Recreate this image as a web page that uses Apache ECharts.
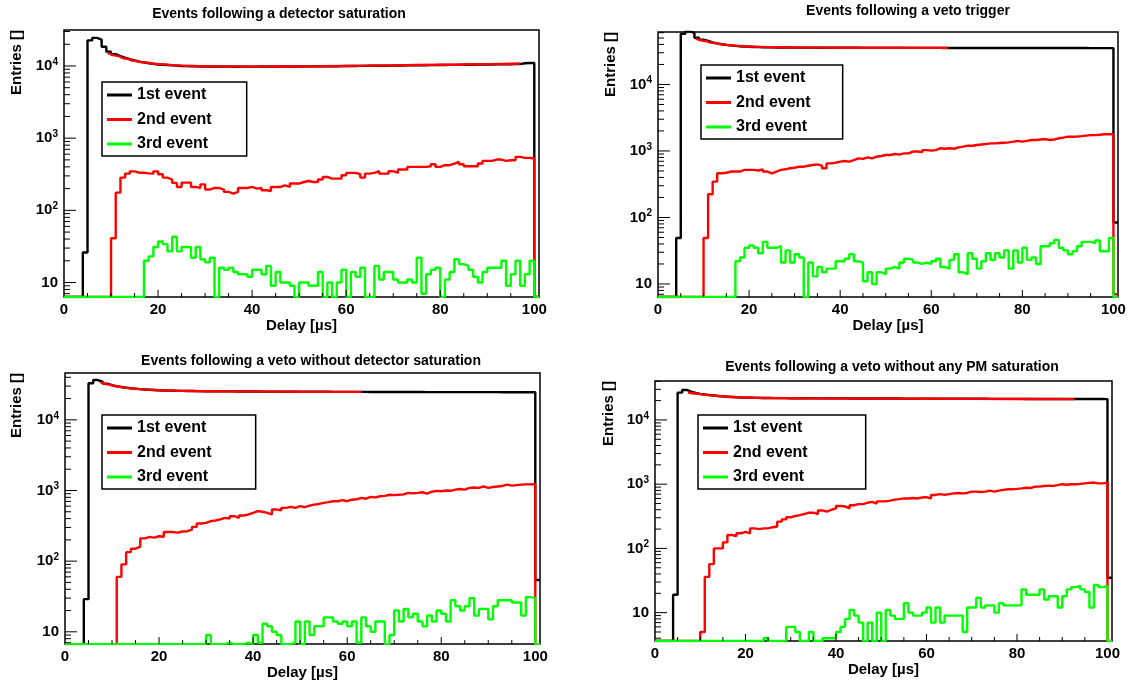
<!DOCTYPE html>
<html>
<head>
<meta charset="utf-8">
<title>Events following a veto</title>
<script src="https://cdn.jsdelivr.net/npm/echarts@6.0.0/dist/echarts.min.js"></script>
<style>
  html, body { margin: 0; padding: 0; background: #fff; }
  #chart { width: 1129px; height: 681px; }
</style>
</head>
<body>
<div id="chart"></div>
<script>
// 101 bins of 1 us, from 0 to 101 us; value i is the content of bin [i, i+1)
const xMax = 101;
const xTicks = [0, 20, 40, 60, 80, 100];
const seriesNames = ["1st event", "2nd event", "3rd event"];
const titles = [
  "Events following a detector saturation",
  "Events following a veto trigger",
  "Events following a veto without detector saturation",
  "Events following a veto without any PM saturation"
];
// y axis range (log) of each pad
const yRanges = [[6.3, 31500], [6.37, 61500], [6.7, 46000], [3.62, 40400]];

// ---- pad 1 : detector saturation
const first1 = [0,0,0,0,26,22600,24500,23200,18500,15800,
  14600,13700,13000,12400,11900,11500,11200,10900,10700,10500,
  10400,10300,10200,10100,10000,9950,9900,9900,9850,9850,
  9820,9800,9810,9780,9800,9790,9770,9800,9780,9790,
  9800,9810,9790,9820,9800,9830,9810,9840,9830,9850,
  9860,9880,9870,9900,9910,9920,9940,9930,9960,9980,
  10000,10010,10030,10020,10050,10070,10060,10090,10110,10120,
  10150,10160,10180,10200,10210,10230,10250,10260,10280,10300,
  10320,10340,10350,10370,10390,10400,10420,10440,10450,10470,
  10490,10510,10530,10550,10570,10590,10620,10900,11000,11000,
  0];
const second1 = [0,0,0,0,0,0,0,0,0,0,
  41,176,284,323,347,332,332,325,323,347,
  316,284,267,240,211,242,242,211,204,229,
  194,204,204,194,180,170,180,204,204,211,
  200,204,190,185,211,211,222,211,235,235,
  247,255,247,247,267,290,275,275,275,306,
  330,330,316,284,323,330,348,323,323,348,
  330,367,367,400,400,400,400,408,435,400,
  422,422,445,469,435,408,408,408,445,485,
  485,505,505,485,495,495,550,533,533,522,
  0];
const third1 = [0,0,0,0,0,0,0,0,0,0,
  0,0,0,0,0,0,0,20,23,31,
  37,34,27,43,27,31,31,22,31,21,
  19,22,0,16,15,16,14,13,13,12,
  15,15,13,17,9,14,10,10,9,0,
  10,10,9,9,14,0,10,0,10,15,
  0,14,12,16,0,0,17,11,14,14,
  11,10,10,11,10,22,7,13,15,16,
  0,11,14,21,18,17,15,12,10,14,
  16,16,16,20,9,13,20,9,13,20,
  0];
const fit1 = [[9.3,15200],[11,13900],[13,12700],[15,11800],[17,11200],[20,10600],[25,10100],
  [30,9900],[35,9820],[40,9800],[50,9850],[60,10000],[70,10200],[80,10400],[90,10600],[97,10800]];

// ---- pad 2 : veto trigger
const first2 = [0,0,0,0,49,58000,63000,59500,50500,47000,
  45000,43000,41500,40300,39400,38700,38100,37600,37200,36900,
  36600,36400,36300,36200,36100,36000,36000,35900,35900,35850,
  35800,35800,35750,35750,35700,35700,35700,35650,35650,35650,
  35600,35600,35600,35600,35550,35550,35550,35550,35500,35500,
  35500,35500,35500,35500,35500,35450,35450,35450,35450,35450,
  35450,35450,35400,35400,35400,35400,35400,35400,35400,35400,
  35400,35400,35400,35350,35350,35350,35350,35350,35350,35350,
  35350,35350,35350,35300,35300,35300,35300,35300,35300,35300,
  35300,35300,35300,35300,35250,35250,35250,35250,35250,35200,
  84];
const second2 = [0,0,0,0,0,0,0,0,0,0,
  49,224,346,462,470,490,490,490,519,519,
  519,508,530,490,462,490,519,530,550,560,
  580,580,600,615,630,600,550,650,665,690,
  705,690,730,775,760,800,775,820,840,870,
  870,900,880,920,920,980,980,960,1030,1010,
  1030,1100,1080,1100,1080,1130,1160,1200,1200,1230,
  1250,1270,1300,1300,1315,1330,1345,1380,1420,1380,
  1420,1460,1460,1490,1510,1460,1490,1550,1590,1640,
  1640,1650,1670,1700,1730,1730,1750,1780,1780,1780,
  7];
const third2 = [0,0,0,0,0,0,0,0,0,0,
  0,0,0,0,0,0,0,22,25,35,
  38,35,29,43,35,35,37,21,32,21,
  28,25,0,21,13,18,15,17,17,22,
  22,24,28,22,21,11,15,10,15,14,
  17,18,17,21,24,23,21,20,21,20,
  22,24,18,17,23,28,15,14,29,24,
  17,22,29,23,29,25,32,17,32,21,
  35,23,25,20,37,37,41,46,35,32,
  28,31,37,43,43,41,45,31,31,49,
  0];
const fit2 = [[8.3,49000],[10,45500],[12,42200],[14,40100],[16,38800],[18,37900],[20,37200],
  [25,36300],[30,35900],[40,35700],[50,35600],[63.7,35500]];

// ---- pad 3 : veto without detector saturation
const first3 = [0,0,0,0,29,32900,36600,34700,32500,31000,
  30000,29200,28600,28000,27600,27200,26900,26600,26400,26200,
  26000,25900,25800,25700,25650,25600,25550,25500,25450,25400,
  25380,25350,25330,25300,25280,25250,25230,25200,25180,25150,
  25130,25100,25080,25060,25040,25020,25000,24990,24980,24970,
  24960,24950,24940,24930,24920,24910,24900,24890,24880,24870,
  24860,24850,24840,24830,24820,24810,24800,24790,24780,24770,
  24760,24750,24740,24730,24720,24710,24700,24700,24690,24690,
  24680,24680,24670,24670,24660,24660,24650,24650,24640,24640,
  24630,24630,24620,24620,24610,24610,24600,24600,24600,24600,
  54];
const second3 = [0,0,0,0,0,0,0,0,0,0,
  0,60,90,134,150,160,210,221,215,225,
  221,258,258,253,263,265,280,306,341,348,
  368,376,390,410,400,433,410,443,458,483,
  510,500,483,458,537,525,568,587,568,600,
  580,610,630,645,668,684,705,705,730,705,
  740,750,785,765,810,800,828,840,870,860,
  870,880,925,910,925,945,905,960,986,975,
  1000,990,1030,1050,1030,1090,1100,1090,1140,1090,
  1120,1140,1160,1210,1170,1190,1210,1220,1220,1230,
  0];
const third3 = [0,0,0,0,0,0,0,0,0,0,
  0,0,0,0,0,0,0,0,0,0,
  0,0,0,0,0,0,0,0,0,0,
  9,0,0,0,7,0,0,0,7,0,
  9,7,13,12,10,9,0,0,7,14,
  0,14,9,12,12,16,16,14,13,14,
  12,14,7,16,12,10,14,14,0,9,
  20,14,21,16,18,14,12,17,14,20,
  18,14,28,23,20,23,30,17,21,21,
  15,23,28,28,28,26,26,17,31,30,
  0];
const fit3 = [[7.5,34500],[9,31800],[11,29700],[13,28300],[15,27400],[18,26600],[20,26200],
  [25,25700],[30,25400],[40,25200],[50,25000],[63,24900]];

// ---- pad 4 : veto without any PM saturation
const first4 = [0,0,0,0,19,26600,29300,27600,26300,25500,
  24900,24400,24000,23600,23300,23000,22800,22600,22400,22300,
  22200,22100,22050,22000,21950,21900,21900,21850,21850,21800,
  21800,21780,21760,21740,21720,21700,21690,21680,21670,21660,
  21650,21640,21630,21620,21610,21600,21590,21580,21570,21560,
  21550,21540,21530,21520,21510,21500,21490,21480,21470,21460,
  21450,21440,21430,21420,21410,21400,21390,21380,21370,21360,
  21350,21340,21330,21320,21310,21300,21290,21280,21270,21260,
  21250,21240,21230,21220,21210,21200,21200,21190,21190,21180,
  21180,21170,21170,21160,21160,21150,21150,21140,21140,21130,
  35];
const second4 = [0,0,0,0,0,0,0,0,0,0,
  5,36,57,100,100,124,162,156,172,181,
  172,205,200,205,205,214,219,261,283,305,
  320,330,343,360,360,343,390,375,400,420,
  458,450,420,470,490,490,515,530,500,540,
  540,555,575,585,600,600,610,600,620,630,
  600,680,700,680,700,720,730,720,730,765,
  765,755,765,795,765,795,815,835,835,845,
  860,880,870,915,915,935,950,940,965,1000,
  980,1000,1000,1010,1030,1050,1060,1030,1030,1060,
  0];
const third4 = [0,0,0,0,0,0,0,0,0,0,
  0,0,0,0,0,0,0,0,0,0,
  0,0,0,0,4,0,0,0,0,6,
  6,5,0,0,5,0,0,4,4,4,
  5,6,8,11,9,7,0,7,0,10,
  0,11,9,8,8,14,10,9,9,10,
  12,7,12,7,9,9,9,9,5,12,
  12,17,12,13,13,10,14,13,13,13,
  13,23,19,19,19,23,16,18,18,12,
  18,23,25,26,23,21,12,27,25,26,
  0];
const fit4 = [[7.3,27000],[9,25800],[11,24700],[13,23900],[15,23300],[18,22700],[20,22400],
  [25,22000],[30,21800],[40,21600],[60,21400],[80,21200],[92.7,21100]];

const pads = [
  { first: first1, second: second1, third: third1, fit: fit1 },
  { first: first2, second: second2, third: third2, fit: fit2 },
  { first: first3, second: second3, third: third3, fit: fit3 },
  { first: first4, second: second4, third: third4, fit: fit4 }
];

// positions of each pad on the canvas
const layout = [
  { grid: { left: 64, top: 30, width: 475, height: 267 }, legend: [102, 82, 35], title: [279, 14], yName: [17, 30] },
  { grid: { left: 658, top: 32, width: 460, height: 265 }, legend: [701, 65, 32], title: [908, 11], yName: [611, 32] },
  { grid: { left: 65, top: 373, width: 475, height: 272 }, legend: [102, 415, 44], title: [311, 361], yName: [17, 373] },
  { grid: { left: 655, top: 381, width: 457, height: 260 }, legend: [698, 415, 58], title: [892, 367], yName: [609, 381] }
];

const FONT = '"Liberation Sans", Arial, Helvetica, sans-serif';
const colors = ["#000000", "#ff0000", "#00ff00"];
const LW = 2.4;

// histogram bins -> step line points, empty bins sit on the bottom of the pad like ROOT does
function histPoints(vals, yMin) {
  const pts = vals.map((v, i) => [i, Math.max(v, yMin)]);
  pts.push([vals.length, Math.max(vals[vals.length - 1], yMin)]);
  return pts;
}

// ROOT style ticks: kind 0 y minor, 1 x minor, 2 y major, 3 x major
function axisTicks(yMin, yMax) {
  const d = [];
  for (let e = 0; e <= 5; e++) {
    for (let k = 1; k <= 9; k++) {
      const v = k * Math.pow(10, e);
      if (v > yMin && v < yMax) d.push([0, v, k === 1 ? 2 : 0]);
    }
  }
  for (let x = 5; x < 100; x += 5) {
    d.push([x, yMin, x % 20 ? 1 : 3]);
  }
  return d;
}
const tickLen = [6, 4, 12, 7];

function powerLabel(v) {
  const l = Math.log10(v);
  const e = Math.round(l);
  if (Math.abs(l - e) > 1e-6) return "";
  return e === 1 ? "{b|10}" : "{b|10}{s|" + e + "}";
}

const grids = [], xAxes = [], yAxes = [], legends = [], series = [], graphics = [];

pads.forEach((pad, i) => {
  const lay = layout[i];
  const yMin = yRanges[i][0], yMax = yRanges[i][1];
  grids.push(Object.assign({ show: true, borderColor: "#000", borderWidth: 1.5, backgroundColor: "transparent" }, lay.grid));

  xAxes.push({
    type: "value", gridIndex: i, min: 0, max: xMax, interval: 20,
    axisLine: { show: false },
    axisTick: { show: false },
    splitLine: { show: false },
    axisLabel: {
      color: "#000", fontSize: 15, fontWeight: "bold", fontFamily: FONT, margin: 5,
      formatter: v => (xTicks.indexOf(v) >= 0 ? String(v) : "")
    },
    name: "Delay [µs]", nameLocation: "middle", nameGap: 20,
    nameTextStyle: { color: "#000", fontSize: 15, fontWeight: "bold", fontFamily: FONT }
  });

  yAxes.push({
    type: "log", logBase: 10, gridIndex: i, min: yMin, max: yMax,
    axisLine: { show: false },
    axisTick: { show: false },
    splitLine: { show: false },
    axisLabel: {
      color: "#000", margin: 6, formatter: powerLabel,
      rich: {
        b: { fontSize: 15, fontWeight: "bold", fontFamily: FONT, color: "#000", lineHeight: 18 },
        s: { fontSize: 10, fontWeight: "bold", fontFamily: FONT, color: "#000", verticalAlign: "top", lineHeight: 10 }
      }
    }
  });

  legends.push({
    orient: "vertical", left: lay.legend[0], top: lay.legend[1],
    data: seriesNames, icon: "rect", itemWidth: 25, itemHeight: 3, itemGap: 8.5,
    padding: [5, lay.legend[2], 4, 5],
    backgroundColor: "#fff", borderColor: "#000", borderWidth: 1.5,
    selectedMode: false,
    textStyle: { color: "#000", fontSize: 16, fontWeight: "bold", fontFamily: FONT, lineHeight: 16 }
  });

  const common = {
    type: "line", xAxisIndex: i, yAxisIndex: i, showSymbol: false, symbol: "none",
    animation: false, silent: true
  };
  series.push(Object.assign({}, common, {
    name: seriesNames[0], step: "end", color: colors[0],
    lineStyle: { color: colors[0], width: LW }, data: histPoints(pad.first, yMin)
  }));
  series.push(Object.assign({}, common, {
    name: "fit", smooth: true, smoothMonotone: "x", color: colors[1],
    lineStyle: { color: colors[1], width: LW }, data: pad.fit
  }));
  series.push(Object.assign({}, common, {
    name: seriesNames[1], step: "end", color: colors[1],
    lineStyle: { color: colors[1], width: LW }, data: histPoints(pad.second, yMin)
  }));
  series.push(Object.assign({}, common, {
    name: seriesNames[2], step: "end", color: colors[2],
    lineStyle: { color: colors[2], width: LW }, data: histPoints(pad.third, yMin)
  }));
  series.push({
    type: "custom", name: "ticks", xAxisIndex: i, yAxisIndex: i, silent: true, animation: false, z: 5,
    encode: { x: 0, y: 1 },
    data: axisTicks(yMin, yMax),
    renderItem: function (params, api) {
      const cs = params.coordSys;
      const kind = api.value(2);
      const len = tickLen[kind];
      const p = api.coord([api.value(0), api.value(1)]);
      const shape = (kind === 0 || kind === 2)
        ? { x1: cs.x, y1: p[1], x2: cs.x + len, y2: p[1] }
        : { x1: p[0], y1: cs.y + cs.height, x2: p[0], y2: cs.y + cs.height - len };
      return { type: "line", shape: shape, style: { stroke: "#000", lineWidth: 1 } };
    }
  });

  graphics.push({
    type: "text", x: lay.title[0], y: lay.title[1],
    style: { text: titles[i], fill: "#000", font: "bold 14px " + FONT,
      textAlign: "center", textVerticalAlign: "middle", align: "center", verticalAlign: "middle" }
  });
  graphics.push({
    type: "text", x: lay.yName[0], y: lay.yName[1], rotation: Math.PI / 2,
    style: { text: "Entries []", fill: "#000", font: "bold 15px " + FONT,
      textAlign: "right", textVerticalAlign: "middle", align: "right", verticalAlign: "middle" }
  });
});

const chart = echarts.init(document.getElementById("chart"));
chart.setOption({
  backgroundColor: "#fff",
  animation: false,
  grid: grids,
  xAxis: xAxes,
  yAxis: yAxes,
  legend: legends,
  series: series,
  graphic: graphics
});
</script>
</body>
</html>
